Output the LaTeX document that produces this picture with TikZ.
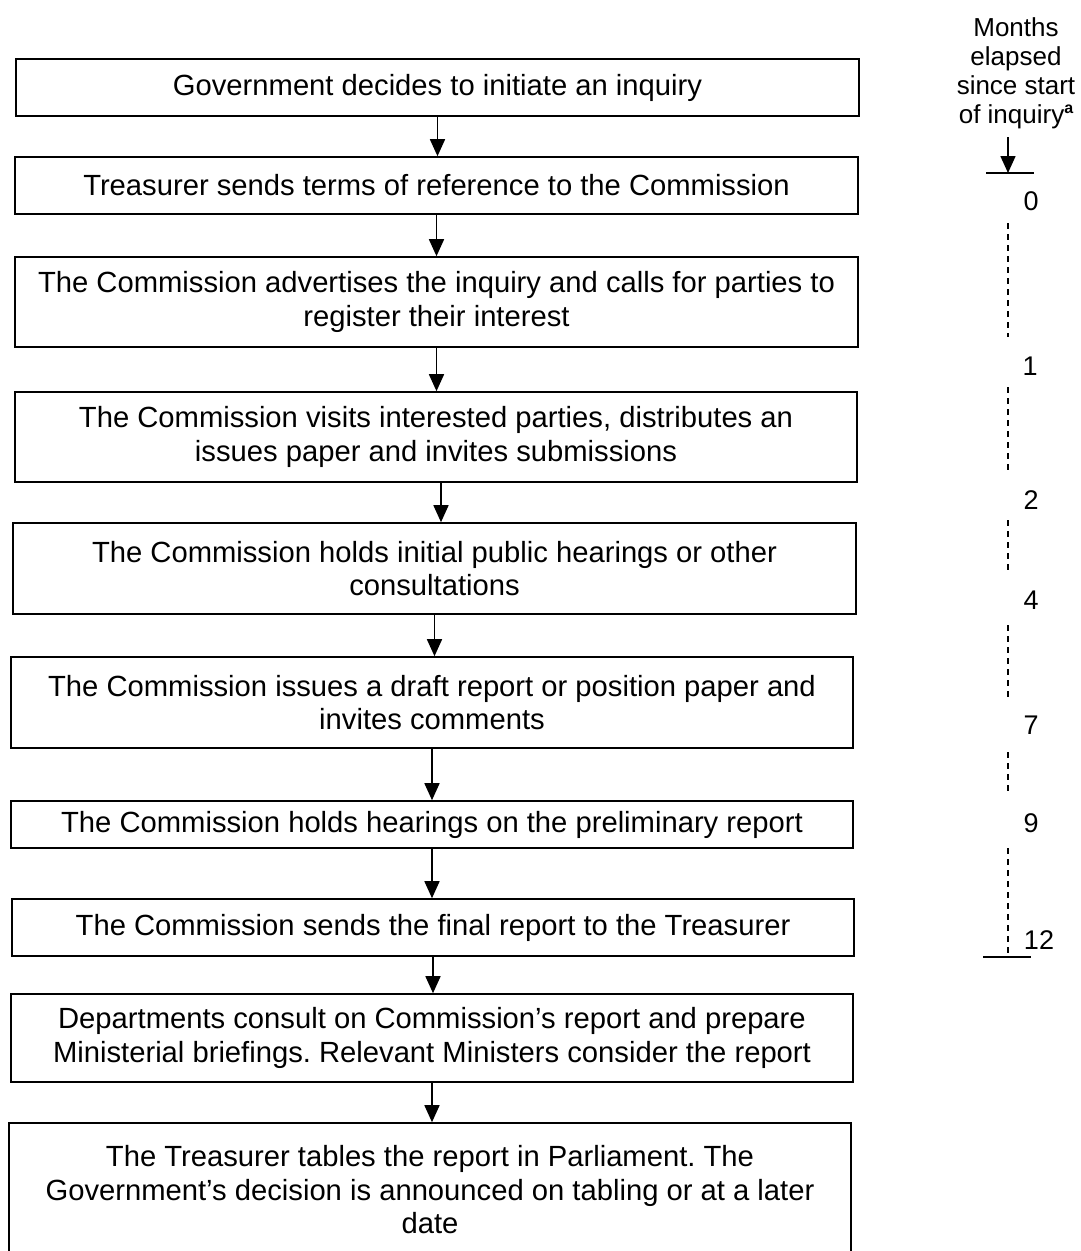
\documentclass[tikz,border=0pt]{standalone}
\usepackage{fontspec}
\setmainfont{Liberation Sans}
\usetikzlibrary{arrows.meta}
\frenchspacing
\begin{document}
\begin{tikzpicture}[x=1pt,y=-1pt,
  stepbox/.style={draw, line width=1.6pt, inner sep=0pt, align=center,
    font=\frenchspacing\fontsize{29.2}{33.5}\selectfont},
  arr/.style={line width=1.6pt, -{Triangle[length=17pt,width=15pt]}},
  tickline/.style={line width=1.6pt},
  dashseg/.style={line width=1.5pt, dash pattern=on 6pt off 5pt},
  month/.style={font=\fontsize{27}{29}\selectfont, inner sep=0pt}]
\useasboundingbox (0,0) rectangle (1080,1251);
\clip (0,0) rectangle (1080,1251);

% flow boxes
\node[stepbox, minimum width=843pt, minimum height=57pt] (b1) at (437.5,87.5)
  {Government decides to initiate an inquiry};
\node[stepbox, minimum width=843pt, minimum height=57pt] (b2) at (436.5,185.5)
  {Treasurer sends terms of reference to the Commission};
\node[stepbox, minimum width=843pt, minimum height=90pt] (b3) at (436.5,302)
  {The Commission advertises the inquiry and calls for parties to\\register their interest};
\node[stepbox, minimum width=842pt, minimum height=90pt] (b4) at (436,437)
  {The Commission visits interested parties, distributes an\\issues paper and invites submissions};
\node[stepbox, minimum width=843pt, minimum height=91pt] (b5) at (434.5,568.5)
  {The Commission holds initial public hearings or other\\consultations};
\node[stepbox, minimum width=842pt, minimum height=91pt] (b6) at (432,702.5)
  {The Commission issues a draft report or position paper and\\invites comments};
\node[stepbox, minimum width=842pt, minimum height=47pt] (b7) at (432,824.5)
  {The Commission holds hearings on the preliminary report};
\node[stepbox, minimum width=842pt, minimum height=57pt] (b8) at (433,927.5)
  {The Commission sends the final report to the Treasurer};
\node[stepbox, minimum width=842pt, minimum height=88pt] (b9) at (432,1038)
  {Departments consult on Commission’s report and prepare\\Ministerial briefings. Relevant Ministers consider the report};
\node[stepbox, minimum width=842pt, minimum height=134pt] (b10) at (430,1190)
  {The Treasurer tables the report in Parliament. The\\Government’s decision is announced on tabling or at a later\\date};

% flow arrows
\draw[arr] (b1.south) -- (b1.south |- b2.north);
\draw[arr] (b2.south) -- (b2.south |- b3.north);
\draw[arr] (b3.south) -- (b3.south |- b4.north);
\draw[arr] ([xshift=5pt]b4.south) -- ([xshift=5pt]b4.south |- b5.north);
\draw[arr] (b5.south) -- (b5.south |- b6.north);
\draw[arr] (b6.south) -- (b6.south |- b7.north);
\draw[arr] (b7.south) -- (b7.south |- b8.north);
\draw[arr] (b8.south) -- (b8.south |- b9.north);
\draw[arr] (b9.south) -- (b9.south |- b10.north);

% timeline
\node[month, font=\fontsize{26}{29}\selectfont, align=center, anchor=north] (title) at (1016,17)
  {Months\\elapsed\\since start\\of inquiry\raisebox{10pt}{\fontsize{16}{16}\selectfont\bfseries a}};
\coordinate (tstart) at (1008,137);
\coordinate (t0) at (1008,173);
\coordinate (t12) at (1008,957);
\draw[arr] (tstart) -- (t0);
\draw[tickline] ([xshift=-22pt]t0) -- ([xshift=26pt]t0);
\draw[tickline] ([xshift=-25pt]t12) -- ([xshift=23pt]t12);

\node[month] (m0) at (1031,201) {0};
\node[month] (m1) at (1030,366) {1};
\node[month] (m2) at (1031,500) {2};
\node[month] (m4) at (1031,600) {4};
\node[month] (m7) at (1031,725) {7};
\node[month] (m9) at (1031,823) {9};
\node[month] (m12) at (1039,940) {12};

\draw[dashseg] (1008,223) -- (1008,337);
\draw[dashseg] (1008,387) -- (1008,470);
\draw[dashseg] (1008,520) -- (1008,572);
\draw[dashseg] (1008,625) -- (1008,698);
\draw[dashseg] (1008,752) -- (1008,793);
\draw[dashseg] (1008,848) -- (1008,953);
\end{tikzpicture}
\end{document}
